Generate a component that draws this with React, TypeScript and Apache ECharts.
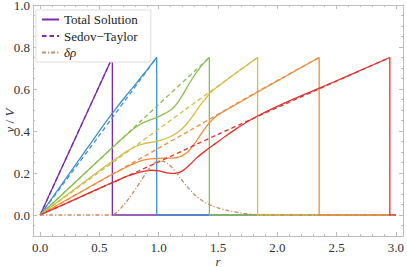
import React, { useEffect, useRef } from "react";
import * as echarts from "echarts";

// ---- data ----
const shockRadii = [0.609, 0.983, 1.427, 1.834, 2.353, 2.949];
const rEnd = 3.0;

const total1 = [[0, 0], [0.609, 0.75]];
const total2 = [[0, 0], [0.45, 0.36], [0.55, 0.44], [0.65, 0.515], [0.75, 0.585], [0.85, 0.655], [0.983, 0.75]];
const total3 = [[0, 0], [0.55, 0.29], [0.7, 0.368], [0.8, 0.415], [0.86, 0.437], [0.93, 0.453], [0.97, 0.461], [1.05, 0.483], [1.11, 0.503], [1.16, 0.535], [1.21, 0.58], [1.264, 0.632], [1.32, 0.68], [1.38, 0.723], [1.427, 0.75]];
const total4 = [[0, 0], [0.55, 0.232], [0.65, 0.272], [0.73, 0.303], [0.8, 0.325], [0.87, 0.339], [0.95, 0.347], [1.02, 0.356], [1.1, 0.374], [1.17, 0.398], [1.23, 0.43], [1.29, 0.473], [1.35, 0.523], [1.4, 0.558], [1.46, 0.595], [1.834, 0.75]];
const total5 = [[0, 0], [0.55, 0.176], [0.72, 0.226], [0.8, 0.247], [0.86, 0.26], [0.93, 0.267], [1.0, 0.27], [1.1, 0.271], [1.18, 0.278], [1.24, 0.298], [1.3, 0.337], [1.35, 0.38], [1.4, 0.42], [1.46, 0.458], [1.52, 0.484], [2.353, 0.75]];
const total6 = [[0, 0], [0.55, 0.14], [0.72, 0.182], [0.8, 0.197], [0.87, 0.208], [0.94, 0.213], [1.0, 0.21], [1.07, 0.201], [1.14, 0.198], [1.2, 0.21], [1.26, 0.238], [1.32, 0.272], [1.4, 0.308], [1.48, 0.341], [1.56, 0.374], [1.65, 0.409], [1.75, 0.445], [1.85, 0.476], [2.0, 0.517], [2.15, 0.555], [2.35, 0.603], [2.6, 0.664], [2.949, 0.75]];

const sedov1 = [[0, 0], [0.609, 0.75]];
const sedov2 = [[0, 0], [0.5, 0.38], [0.983, 0.75]];
const sedov3 = [[0, 0], [0.98, 0.516], [1.427, 0.75]];
const sedov4 = [[0, 0], [0.8, 0.327], [1.22, 0.5], [1.834, 0.75]];
const sedov5 = [[0, 0], [1.264, 0.403], [1.834, 0.588], [2.353, 0.75]];
const sedov6 = [[0, 0], [0.98, 0.248], [1.5, 0.384], [2.353, 0.601], [2.949, 0.75]];

const deltaRho = [[0, 0], [0.609, 0], [0.65, 0.015], [0.7, 0.045], [0.75, 0.08], [0.8, 0.12], [0.85, 0.162], [0.9, 0.205], [0.95, 0.24], [1.0, 0.258], [1.04, 0.255], [1.08, 0.243], [1.13, 0.215], [1.18, 0.178], [1.24, 0.135], [1.3, 0.098], [1.35, 0.075], [1.4, 0.057], [1.45, 0.044], [1.5, 0.034], [1.6, 0.019], [1.7, 0.009], [1.8, 0.003], [1.9, 0], [3.0, 0]];

const xMajorTicks = [0, 0.5, 1.0, 1.5, 2.0, 2.5, 3.0];
const xMinorTicks = [0.1, 0.2, 0.3, 0.4, 0.6, 0.7, 0.8, 0.9, 1.1, 1.2, 1.3, 1.4, 1.6, 1.7, 1.8, 1.9, 2.1, 2.2, 2.3, 2.4, 2.6, 2.7, 2.8, 2.9];
const yMajorTicks = [0, 0.2, 0.4, 0.6, 0.8, 1.0];
const yMinorTicks = [-0.05, 0.05, 0.1, 0.15, 0.25, 0.3, 0.35, 0.45, 0.5, 0.55, 0.65, 0.7, 0.75, 0.85, 0.9, 0.95];

const legendNames = ["Total Solution", "Sedov\u2212Taylor", "\u03b4\u03c1"];

// ---- styles ----
const colors = ["#7a2ea6", "#3e91cd", "#8cbe50", "#d4be48", "#f08c3c", "#e1322d"];
const rhoColor = "#c88c5f";
const frameColor = "#bdbdbd";
const FONT = "Liberation Serif, serif";

export default function App() {
  const ref = useRef<HTMLDivElement>(null);
  useEffect(() => {
    if (!ref.current) return;
    const chart = echarts.init(ref.current, undefined, { renderer: "svg" });
    const totals = [total1, total2, total3, total4, total5, total6];
    const sedovs = [sedov1, sedov2, sedov3, sedov4, sedov5, sedov6];
    const series: any[] = [];
    const lw = 1.3;
    totals.forEach((t, i) => {
      const R = shockRadii[i];
      const top = t[t.length - 1][1];
      series.push({
        name: i === 0 ? legendNames[0] : "total" + (i + 1),
        type: "line",
        data: t,
        smooth: i === 0 ? false : 0.3,
        symbol: "none",
        lineStyle: { color: colors[i], width: lw },
        itemStyle: { color: colors[i] },
        emphasis: { disabled: true },
      });
      series.push({
        name: "drop" + (i + 1),
        type: "line",
        data: [[R, top], [R, 0], [rEnd, 0]],
        symbol: "none",
        lineStyle: { color: colors[i], width: lw },
        itemStyle: { color: colors[i] },
        emphasis: { disabled: true },
      });
      series.push({
        name: i === 0 ? legendNames[1] : "sedov" + (i + 1),
        type: "line",
        data: sedovs[i],
        smooth: 0.3,
        symbol: "none",
        lineStyle: { color: colors[i], width: lw, type: [4.5, 3] },
        itemStyle: { color: colors[i] },
        emphasis: { disabled: true },
      });
    });
    series.push({
      name: legendNames[2],
      type: "line",
      data: deltaRho,
      smooth: 0.3,
      symbol: "none",
      lineStyle: { color: rhoColor, width: lw, type: [4, 2, 1.2, 2] },
      itemStyle: { color: rhoColor },
      emphasis: { disabled: true },
    });

    const baseX = { type: "value", min: -0.06, max: 3.06, gridIndex: 0, splitLine: { show: false } };
    const baseY = { type: "value", min: -0.1, max: 1.0, gridIndex: 0, splitLine: { show: false } };
    const tickStyle = { color: frameColor, width: 1 };
    const textCol = "#333";

    chart.setOption({
      animation: false,
      textStyle: { fontFamily: FONT },
      grid: { left: 33, right: 4, top: 5, bottom: 31, containLabel: false, outerBoundsMode: "none" },
      legend: {
        data: [
          { name: legendNames[0] },
          { name: legendNames[1] },
          { name: legendNames[2], textStyle: { fontStyle: "italic" } },
        ],
        orient: "vertical",
        left: 36,
        top: 10,
        itemWidth: 17,
        itemHeight: 10,
        itemGap: 3.5,
        padding: [3, 13, 3, 5],
        backgroundColor: "#fff",
        borderColor: "#dddddd",
        borderWidth: 1,
        borderRadius: 0,
        selectedMode: false,
        itemStyle: { opacity: 0 },
        textStyle: { fontFamily: FONT, fontSize: 13, color: "#222" },
      },
      xAxis: [
        {
          ...baseX,
          position: "bottom",
          name: "r",
          nameLocation: "middle",
          nameGap: 19,
          nameMoveOverlap: false,
          nameTextStyle: { fontFamily: FONT, fontSize: 13, fontStyle: "italic", color: textCol, lineHeight: 12 },
          axisLine: { show: true, onZero: false, lineStyle: { color: frameColor } },
          axisTick: { show: true, inside: true, length: 4, customValues: xMajorTicks, lineStyle: tickStyle },
          axisLabel: {
            show: true, customValues: xMajorTicks, margin: 5,
            formatter: (v: number) => v.toFixed(1),
            fontFamily: FONT, fontSize: 13, color: textCol, lineHeight: 12,
          },
        },
        {
          ...baseX,
          position: "bottom",
          axisLine: { show: false, onZero: false },
          axisTick: { show: true, inside: true, length: 2, customValues: xMinorTicks, lineStyle: tickStyle },
          axisLabel: { show: false },
        },
        {
          ...baseX,
          position: "top",
          axisLine: { show: true, onZero: false, lineStyle: { color: frameColor } },
          axisTick: { show: true, inside: true, length: 4, customValues: xMajorTicks, lineStyle: tickStyle },
          axisLabel: { show: false },
        },
        {
          ...baseX,
          position: "top",
          axisLine: { show: false, onZero: false },
          axisTick: { show: true, inside: true, length: 2, customValues: xMinorTicks, lineStyle: tickStyle },
          axisLabel: { show: false },
        },
      ],
      yAxis: [
        {
          ...baseY,
          position: "left",
          name: "{i|v} / {i|V}",
          nameLocation: "middle",
          nameGap: 17,
          nameMoveOverlap: false,
          nameRotate: 90,
          nameTextStyle: {
            fontFamily: FONT, fontSize: 13, color: textCol,
            rich: { i: { fontFamily: FONT, fontSize: 13, fontStyle: "italic", color: textCol } },
          },
          axisLine: { show: true, onZero: false, lineStyle: { color: frameColor } },
          axisTick: { show: true, inside: true, length: 4, customValues: yMajorTicks, lineStyle: tickStyle },
          axisLabel: {
            show: true, customValues: yMajorTicks, margin: 3,
            formatter: (v: number) => v.toFixed(1),
            fontFamily: FONT, fontSize: 13, color: textCol, lineHeight: 10,
          },
        },
        {
          ...baseY,
          position: "left",
          axisLine: { show: false, onZero: false },
          axisTick: { show: true, inside: true, length: 2, customValues: yMinorTicks, lineStyle: tickStyle },
          axisLabel: { show: false },
        },
        {
          ...baseY,
          position: "right",
          axisLine: { show: true, onZero: false, lineStyle: { color: frameColor } },
          axisTick: { show: true, inside: true, length: 4, customValues: yMajorTicks, lineStyle: tickStyle },
          axisLabel: { show: false },
        },
        {
          ...baseY,
          position: "right",
          axisLine: { show: false, onZero: false },
          axisTick: { show: true, inside: true, length: 2, customValues: yMinorTicks, lineStyle: tickStyle },
          axisLabel: { show: false },
        },
      ],
      series: series.map((s) => ({ ...s, xAxisIndex: 0, yAxisIndex: 0 })),
    });
    return () => chart.dispose();
  }, []);
  return (
    <div
      ref={ref}
      style={{ position: "fixed", left: 0, top: 0, width: 407, height: 267, background: "#fff" }}
    />
  );
}
